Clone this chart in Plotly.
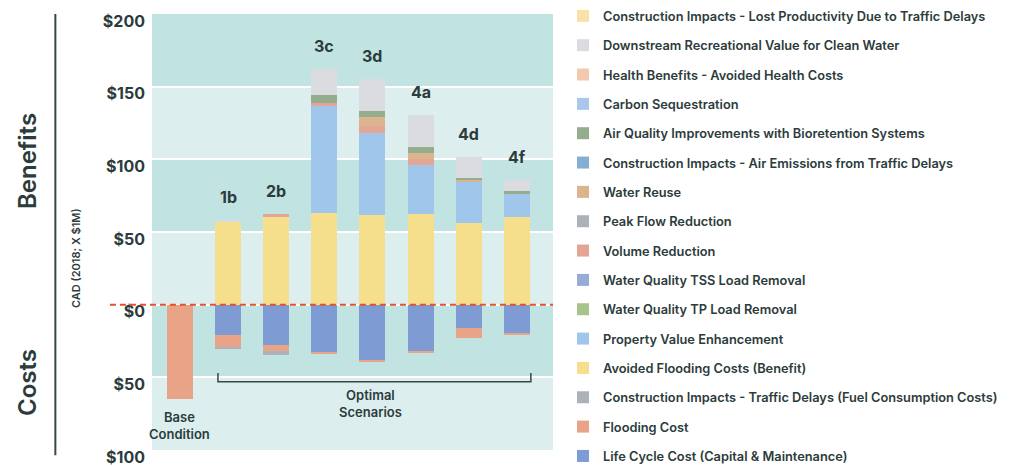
import plotly.graph_objects as go

# ---------------- data ----------------
categories = ["Base", "1b", "2b", "3c", "3d", "4a", "4d", "4f"]
bar_labels = ["", "1b", "2b", "3c", "3d", "4a", "4d", "4f"]

# benefits (positive, CAD 2018, $M)
avoided_flooding = [0, 57, 60, 63, 62, 62.5, 56.5, 60.5]
property_value = [0, 0, 0, 74, 56, 33.5, 28.5, 15.5]
volume_reduction = [0, 0, 2.5, 2, 5, 4.5, 0, 0]
water_reuse = [0, 0, 0, 0, 6, 4, 1, 0]
air_quality = [0, 0, 0, 5, 4, 4, 1.5, 2]
downstream = [0, 1, 0, 18, 22, 22, 14, 8]
carbon_seq = [0, 0, 0, 0, 0, 0, 0, 0]
health = [0, 0, 0, 0, 0, 0, 0, 0]
tss = [0, 0, 0, 0, 0, 0, 0, 0]
tp = [0, 0, 0, 0, 0, 0, 0, 0]
peak_flow = [0, 0, 0, 0, 0, 0, 0, 0]

# costs (negative)
life_cycle = [0, -21, -27.5, -33, -38.5, -32, -16, -19.5]
flooding_cost = [-65, -8.5, -4.5, -1, -1, -1, -7, -1]
fuel_consumption = [0, -0.8, -2.5, 0, 0, 0, 0, 0]
air_emissions = [0, 0, 0, 0, 0, 0, 0, 0]
lost_productivity = [0, 0, 0, 0, 0, 0, 0, 0]

tick_values = [200, 150, 100, 50, 0, -50, -100]
tick_text = ["$200", "$150", "$100", "$50", "$0", "$50", "$100"]

# (legend label, values, colour) in stacking order
series = [
    ("Life Cycle Cost (Capital & Maintenance)", life_cycle, "#7f9bd3"),
    ("Flooding Cost", flooding_cost, "#e9a487"),
    ("Construction Impacts - Traffic Delays (Fuel Consumption Costs)", fuel_consumption, "#adb1b9"),
    ("Avoided Flooding Costs (Benefit)", avoided_flooding, "#f5de8c"),
    ("Property Value Enhancement", property_value, "#a0c6ec"),
    ("Water Quality TP Load Removal", tp, "#a7c48d"),
    ("Water Quality TSS Load Removal", tss, "#97acd5"),
    ("Volume Reduction", volume_reduction, "#e2a596"),
    ("Peak Flow Reduction", peak_flow, "#adb2ba"),
    ("Water Reuse", water_reuse, "#dcb48e"),
    ("Construction Impacts - Air Emissions from Traffic Delays", air_emissions, "#84afd2"),
    ("Air Quality Improvements with Bioretention Systems", air_quality, "#94ad8f"),
    ("Carbon Sequestration", carbon_seq, "#a9c7ea"),
    ("Health Benefits - Avoided Health Costs", health, "#f2c9ac"),
    ("Downstream Recreational Value for Clean Water", downstream, "#dadcdf"),
    ("Construction Impacts - Lost Productivity Due to Traffic Delays", lost_productivity, "#f9e1a8"),
]

TEXT = "#2c3b3b"
FONT = "Inter"

fig = go.Figure()
n = len(series)
for i, (name, vals, col) in enumerate(series):
    fig.add_trace(go.Bar(
        x=categories, y=vals, name=name, legendgroup=f"g{i}", legendrank=n - i,
        marker=dict(color=col, line=dict(width=0)),
        width=0.54, hoverinfo="name+y",
    ))

totals = [sum(v[k] for _, v, _ in series if v[k] > 0) for k in range(len(categories))]

# background bands
bands = ["#c1e4e3", "#dcefee", "#c1e4e3", "#dcefee", "#c1e4e3", "#dcefee"]
for j in range(len(tick_values) - 1):
    fig.add_shape(type="rect", xref="paper", yref="y", x0=0, x1=1,
                  y0=tick_values[j + 1], y1=tick_values[j],
                  fillcolor=bands[j], line=dict(width=0), layer="below")

# zero dashed line
fig.add_shape(type="line", xref="paper", yref="y", x0=-0.105, x1=1, y0=0, y1=0,
              line=dict(color="#e2522c", width=2, dash="6px,4px"), layer="above")

# bracket under optimal scenarios
bx0, bx1, by, bt = 0.79, 7.29, -53, -47
fig.add_shape(type="path", xref="x", yref="y",
              path=f"M {bx0},{bt} L {bx0},{by} L {bx1},{by} L {bx1},{bt}",
              line=dict(color="#3a4646", width=1.5))

# left vertical divider
fig.add_shape(type="line", xref="paper", yref="paper", x0=-0.241, x1=-0.241, y0=-0.012, y1=1.0,
              line=dict(color="#3a4646", width=2))

# bar labels
for k, lab in enumerate(bar_labels):
    if lab:
        fig.add_annotation(x=categories[k], y=totals[k], text=lab, showarrow=False,
                           yanchor="bottom", yshift=11,
                           font=dict(family=FONT, size=16, color=TEXT, weight=700))

fig.add_annotation(x=categories[0], y=-83, text="Base<br>Condition", showarrow=False,
                   font=dict(family=FONT, size=13, color=TEXT, weight=600))
fig.add_annotation(x=(bx0 + bx1) / 2 - 0.08, y=-68, text="Optimal<br>Scenarios", showarrow=False,
                   font=dict(family=FONT, size=13, color=TEXT, weight=600))

fig.add_annotation(xref="paper", yref="paper", x=-0.309, y=0.663, text="Benefits",
                   textangle=-90, showarrow=False, xanchor="center", yanchor="middle",
                   font=dict(family=FONT, size=24, color=TEXT, weight=600))
fig.add_annotation(xref="paper", yref="paper", x=-0.309, y=0.154, text="Costs",
                   textangle=-90, showarrow=False, xanchor="center", yanchor="middle",
                   font=dict(family=FONT, size=24, color=TEXT, weight=600))
fig.add_annotation(xref="paper", yref="paper", x=-0.19, y=0.44, text="CAD (2018; X $1M)",
                   textangle=-90, showarrow=False, xanchor="center", yanchor="middle",
                   font=dict(family=FONT, size=11, color=TEXT, weight=600))

fig.update_layout(
    width=1009, height=466,
    margin=dict(l=152, r=456, t=14, b=16, autoexpand=False),
    barmode="relative", bargap=0,
    paper_bgcolor="white", plot_bgcolor="white",
    font=dict(family=FONT, color=TEXT),
    showlegend=True,
    legend=dict(
        xref="container", yref="container",
        x=563 / 1009, y=0.9978, xanchor="left", yanchor="top",
        traceorder="grouped", tracegroupgap=9.7, maxheight=1000,
        font=dict(family=FONT, size=12.8, color=TEXT, weight=600),
        bgcolor="rgba(0,0,0,0)",
    ),
    xaxis=dict(range=[-0.58, 7.75], showticklabels=False, showgrid=False,
               zeroline=False, showline=False, ticks="", automargin=False),
    yaxis=dict(range=[-100, 200], tickvals=tick_values, ticktext=tick_text,
               showgrid=True, gridcolor="white", gridwidth=2, zeroline=False,
               showline=False, ticks="", ticklabelshift=7, ticklabelstandoff=6,
               ticklabeloverflow="allow", automargin=False,
               tickfont=dict(family=FONT, size=16, color=TEXT, weight=700)),
)

fig.write_html("out.html", config={"displayModeBar": False},
               post_script="document.body.style.margin='0px';document.body.style.overflow='hidden';")
